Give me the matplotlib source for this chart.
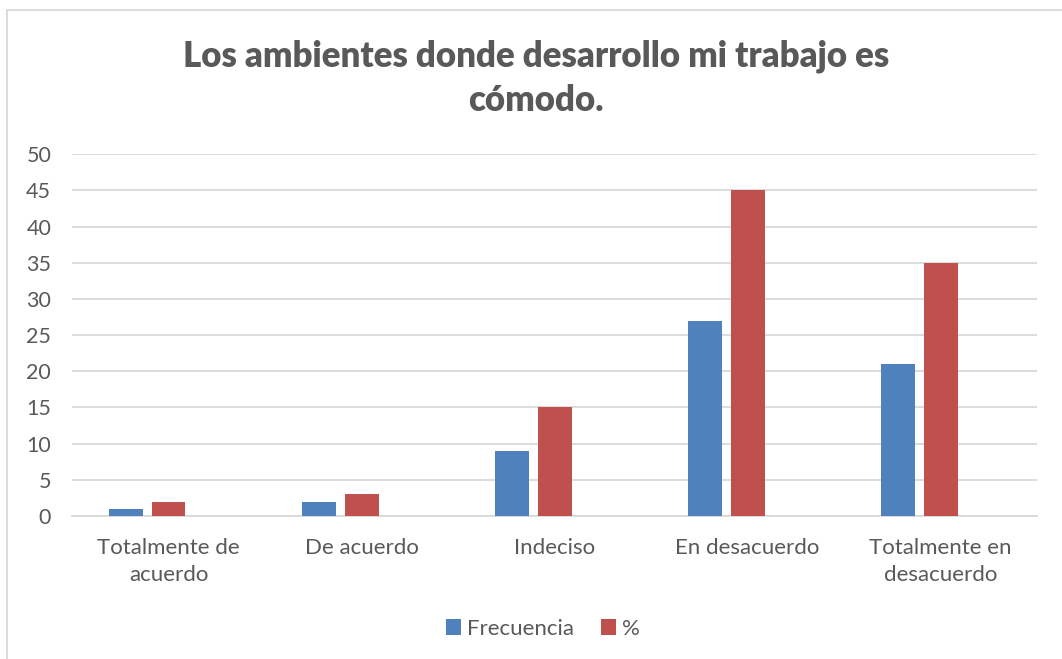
import matplotlib.pyplot as plt
import numpy as np
from matplotlib.patches import Rectangle

categories = ["Totalmente de\nacuerdo", "De acuerdo", "Indeciso", "En desacuerdo", "Totalmente en\ndesacuerdo"]
frecuencia = [1, 2, 9, 27, 21]
porcentaje = [2, 3, 15, 45, 35]
series_names = ["Frecuencia", "%"]
yticks = [0, 5, 10, 15, 20, 25, 30, 35, 40, 45, 50]

plt.rcParams['font.family'] = ['Lato', 'DejaVu Sans']
text_color = "#595959"
grid_color = "#D9D9D9"

fig = plt.figure(figsize=(10.62, 6.59), dpi=100)
ax = fig.add_axes([0.0678, 0.217, 0.9087, 0.549])

x = np.arange(len(categories))
w = 0.176
ax.bar(x - 0.222, frecuencia, w, color="#4F81BD", label=series_names[0], zorder=3)
ax.bar(x, porcentaje, w, color="#C0504D", label=series_names[1], zorder=3)

ax.set_xlim(-0.5, len(categories) - 0.5)
ax.set_ylim(0, 50)
ax.set_yticks(yticks)
ax.set_xticks(x)
ax.set_xticklabels(categories, fontsize=16, color=text_color, linespacing=1.4)
ax.tick_params(axis="y", labelsize=15.5, labelcolor=text_color, length=0, pad=15)
ax.tick_params(axis="x", length=0, pad=16)
ax.grid(axis="y", color=grid_color, linewidth=1.3, zorder=0)
for s in ["top", "right", "left"]:
    ax.spines[s].set_visible(False)
ax.spines["bottom"].set_color(grid_color)
ax.spines["bottom"].set_linewidth(1.3)

fig.text(0.505, 0.881, "Los ambientes donde desarrollo mi trabajo es\ncómodo.",
         ha="center", va="center", fontsize=25, fontweight="heavy", color=text_color,
         linespacing=1.4)

fig.legend(loc="center", bbox_to_anchor=(0.511, 0.046), ncol=2, frameon=False,
           fontsize=16, labelcolor=text_color, handlelength=0.7, handleheight=0.7,
           handletextpad=0.25, columnspacing=1.2)

fig.patches.append(Rectangle((7 / 1062, -0.1), 1.2, 1 - 10 / 659 + 0.1,
                             transform=fig.transFigure, fill=False,
                             edgecolor=grid_color, linewidth=1.3))

fig.savefig("out.png", dpi=100)
